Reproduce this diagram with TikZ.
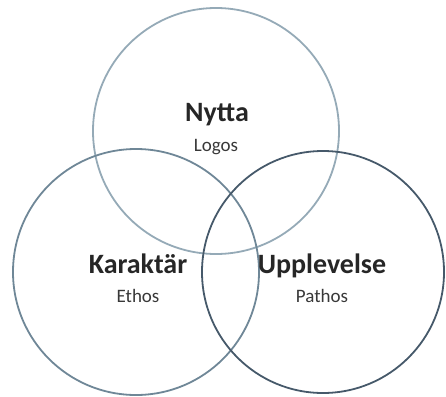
\documentclass[tikz,border=0pt]{standalone}
\usepackage{fontspec}
\setmainfont{Carlito}
\begin{document}
\begin{tikzpicture}[x=1pt,y=-1pt,
  ring/.style={circle,draw,line width=1.8pt,inner sep=0pt},
  title/.style={font=\bfseries\fontsize{28}{30}\selectfont,text=black!85,anchor=base,inner sep=0pt},
  sub/.style={font=\fontsize{19}{21}\selectfont,text=black!78,anchor=base,inner sep=0pt}]
\definecolor{ctop}{HTML}{95AAB7}
\definecolor{cleft}{HTML}{6F8797}
\definecolor{cright}{HTML}{46596A}
\useasboundingbox (0,0) rectangle (446,396);
\node[ring,draw=ctop,minimum size=246pt] (logos) at (216,131) {};
\node[ring,draw=cleft,minimum size=246pt] (ethos) at (136,272) {};
\node[ring,draw=cright,minimum size=242pt] (pathos) at (323,272) {};
\node[title] (nytta) at (217,121) {Nytta};
\node[sub] (logost) at (216,151) {Logos};
\node[title] (kar) at (138,273) {Karaktär};
\node[sub] (eth) at (138,302) {Ethos};
\node[title] (upp) at (322,273) {Upplevelse};
\node[sub] (pat) at (322,302) {Pathos};
\end{tikzpicture}
\end{document}
